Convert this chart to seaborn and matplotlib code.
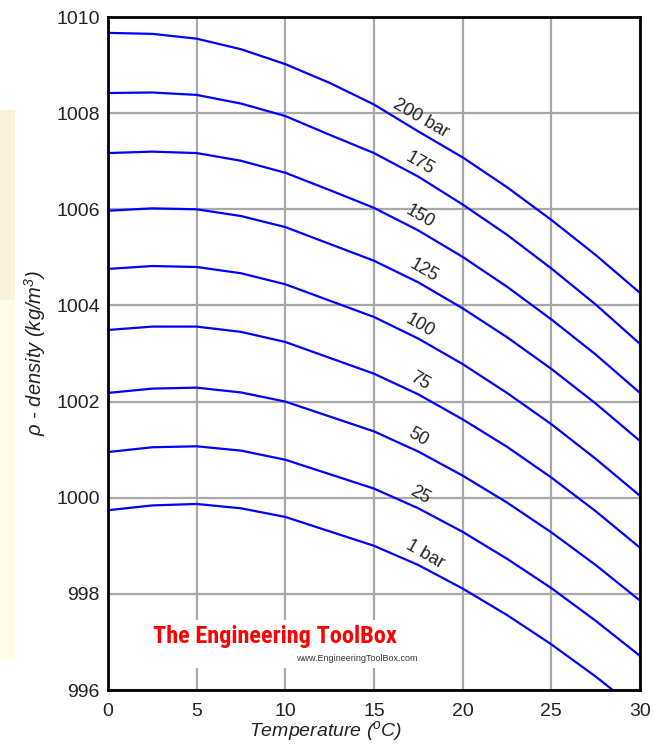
import numpy as np
import pandas as pd
import matplotlib
matplotlib.use('Agg')
import matplotlib.pyplot as plt
import seaborn as sns
from matplotlib.patches import Rectangle

# temperature in degC, density in kg/m3
temperature = [0, 2.5, 5, 7.5, 10, 12.5, 15, 17.5, 20, 22.5, 25, 27.5, 30]

rho_1bar = [999.74, 999.84, 999.87, 999.78, 999.60, 999.30, 999.00, 998.60, 998.11, 997.56, 996.95, 996.28, 995.55]
rho_25 = [1000.95, 1001.05, 1001.07, 1000.98, 1000.79, 1000.49, 1000.19, 999.78, 999.29, 998.73, 998.12, 997.44, 996.71]
rho_50 = [1002.18, 1002.27, 1002.29, 1002.19, 1002.00, 1001.69, 1001.38, 1000.96, 1000.46, 999.90, 999.28, 998.60, 997.86]
rho_75 = [1003.49, 1003.56, 1003.56, 1003.45, 1003.24, 1002.91, 1002.58, 1002.15, 1001.63, 1001.06, 1000.42, 999.72, 998.96]
rho_100 = [1004.76, 1004.82, 1004.80, 1004.67, 1004.44, 1004.10, 1003.76, 1003.31, 1002.78, 1002.18, 1001.53, 1000.81, 1000.04]
rho_125 = [1005.97, 1006.02, 1006.00, 1005.86, 1005.63, 1005.28, 1004.93, 1004.48, 1003.94, 1003.34, 1002.68, 1001.96, 1001.18]
rho_150 = [1007.17, 1007.20, 1007.17, 1007.01, 1006.76, 1006.40, 1006.03, 1005.56, 1005.01, 1004.39, 1003.71, 1002.98, 1002.18]
rho_175 = [1008.42, 1008.43, 1008.38, 1008.20, 1007.94, 1007.55, 1007.17, 1006.68, 1006.10, 1005.47, 1004.77, 1004.02, 1003.20]
rho_200 = [1009.67, 1009.65, 1009.55, 1009.33, 1009.02, 1008.63, 1008.18, 1007.62, 1007.08, 1006.46, 1005.78, 1005.05, 1004.26]

pressure_labels = ['1 bar', '25', '50', '75', '100', '125', '150', '175', '200 bar']
series = [rho_1bar, rho_25, rho_50, rho_75, rho_100, rho_125, rho_150, rho_175, rho_200]

# temperature where each curve label is centred
label_x = [17.9, 17.6, 17.5, 17.6, 17.6, 17.8, 17.6, 17.6, 17.65]

rows = []
for lab, vals in zip(pressure_labels, series):
    for t, r in zip(temperature, vals):
        rows.append({'T': t, 'rho': r, 'p': lab})
df = pd.DataFrame(rows)

sns.set_style('white')
plt.rcParams['font.family'] = ['Liberation Sans', 'DejaVu Sans']
plt.rcParams['mathtext.fontset'] = 'custom'
plt.rcParams['mathtext.rm'] = 'Liberation Sans:italic'
plt.rcParams['mathtext.it'] = 'Liberation Sans:italic'

fig = plt.figure(figsize=(6.54, 7.47), dpi=100)
ax = fig.add_axes([0.1651, 0.0763, 0.8135, 0.9009])

# pale side panel at the left edge
fig.patches.append(Rectangle((0, 1 - 660 / 747), 15 / 654, 360 / 747, transform=fig.transFigure,
                             facecolor='#fffde8', edgecolor='none', zorder=0))
fig.patches.append(Rectangle((0, 1 - 300 / 747), 15 / 654, 190 / 747, transform=fig.transFigure,
                             facecolor='#f9f3dc', edgecolor='none', zorder=0))

sns.lineplot(data=df, x='T', y='rho', hue='p', palette=['#0000ff'] * 9, estimator=None,
             legend=False, linewidth=1.6, ax=ax)

ax.set_xlim(0, 30)
ax.set_ylim(996, 1010)
ax.set_xticks(range(0, 31, 5))
ax.set_yticks(range(996, 1011, 2))
ax.grid(True, color='#a8a8a8', linewidth=1.6)
ax.set_axisbelow(True)
for s in ax.spines.values():
    s.set_linewidth(2)
    s.set_color('black')
ax.tick_params(labelsize=14, length=3, color='#a0a0a0', width=1.5, labelcolor='#222222')
ax.tick_params(axis='x', pad=6)
ax.tick_params(axis='y', pad=3)

ax.set_xlabel(r'Temperature ($^o$C)', fontsize=14, style='italic', color='#222222')
ax.xaxis.set_label_coords(0.41, -0.043)
ax.xaxis.label.set_va('top')
ax.set_ylabel(r'$\rho$ - density (kg/m$^3$)', fontsize=14.5, style='italic', color='#222222', labelpad=6)

for lab, x, vals in zip(pressure_labels, label_x, series):
    y = np.interp(x, temperature, vals) + 0.3
    ax.text(x, y, lab, rotation=-30, ha='center', va='center', fontsize=13, color='#222222')

# watermark
ax.add_patch(Rectangle((0.079, 0.033), 0.536, 0.071, transform=ax.transAxes,
                       facecolor='white', edgecolor='none', zorder=1))
ax.text(0.314, 0.080, 'The Engineering ToolBox', transform=ax.transAxes, ha='center', va='center',
        fontsize=17.5, fontweight='bold', fontstretch='condensed', color='#ff0000',
        family=['Roboto Condensed', 'Liberation Sans Narrow', 'DejaVu Sans'], zorder=3)
ax.text(0.468, 0.0475, 'www.EngineeringToolBox.com', transform=ax.transAxes, ha='center', va='center',
        fontsize=6.5, color='#333333', zorder=3)

fig.savefig('out.png', dpi=100)
